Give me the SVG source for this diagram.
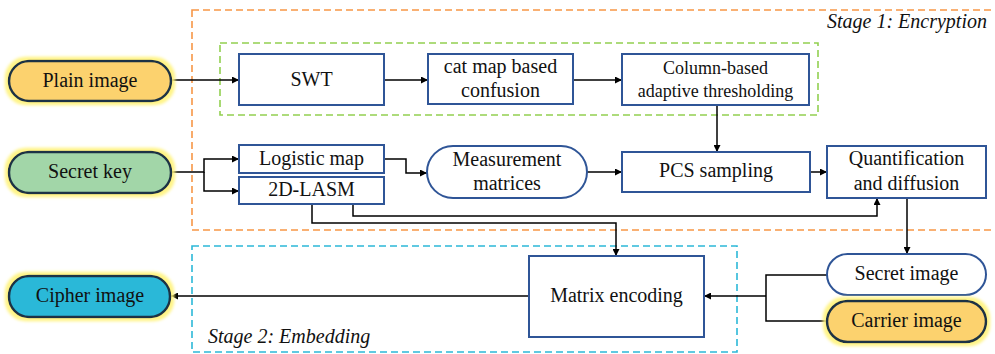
<svg xmlns="http://www.w3.org/2000/svg" width="995" height="354" viewBox="0 0 995 354">
<style>
  text{font-family:'Liberation Serif','Times New Roman',Tinos,'DejaVu Serif','Noto Serif',serif;fill:#111;font-size:20px;text-anchor:middle}
  .sm{font-size:18px}
  .lbl{font-style:italic;text-anchor:start}
  .box{fill:#fff;stroke:#2F5597;stroke-width:2}
  .pill{stroke:#1B3344;stroke-width:2.5}
  .con{fill:none;stroke:#000;stroke-width:1.5}
  .arr{marker-end:url(#ah)}
  .dash{fill:none;stroke-width:1.6;stroke-dasharray:7 4}
</style>
<defs>
  <marker id="ah" viewBox="0 0 10 10" refX="10" refY="5" markerWidth="7" markerHeight="7" markerUnits="userSpaceOnUse" orient="auto">
    <path d="M0,0 L10,5 L0,10 z" fill="#000"/>
  </marker>
  <filter id="glow" x="-20%" y="-50%" width="140%" height="200%">
    <feMorphology in="SourceAlpha" operator="dilate" radius="3" result="d"/>
    <feGaussianBlur in="d" stdDeviation="1.8" result="b"/>
    <feFlood flood-color="#FFF37A" flood-opacity="0.9"/>
    <feComposite in2="b" operator="in" result="g"/>
    <feMerge><feMergeNode in="g"/><feMergeNode in="SourceGraphic"/></feMerge>
  </filter>
</defs>

<g id="stage1">
  <rect class="dash" x="192" y="10" width="812" height="220" stroke="#F79646"/>
  <text class="lbl" x="827" y="28" font-family="Liberation Serif, serif">Stage 1: Encryption</text>
</g>
<g id="stage1-inner">
  <rect class="dash" x="220" y="43" width="598" height="72" stroke="#92D050"/>
</g>
<g id="stage2">
  <rect class="dash" x="192" y="246" width="545" height="106" stroke="#2CB8D8"/>
  <text class="lbl" x="208" y="343">Stage 2: Embedding</text>
</g>

<g id="connectors">
  <path class="con arr" d="M171,80 H239"/>
  <path class="con arr" d="M384,80 H428"/>
  <path class="con arr" d="M573,80 H622"/>
  <path class="con arr" d="M717,105 V152"/>
  <path class="con arr" d="M171,172 H204 V159 H239"/>
  <path class="con arr" d="M204,172 V191 H239"/>
  <path class="con arr" d="M384,159 H406 V173 H427"/>
  <path class="con arr" d="M587,172 H622"/>
  <path class="con arr" d="M810,172 H827"/>
  <path class="con arr" d="M353,204 V216 H877 V198"/>
  <path class="con arr" d="M312,204 V223 H616 V256"/>
  <path class="con arr" d="M907,198 V254"/>
  <path class="con arr" d="M529,296 H171"/>
  <path class="con" d="M827,275 H766 V321 H827"/>
  <path class="con arr" d="M766,296 H704"/>
</g>

<g id="plain-image">
  <rect class="pill" x="9" y="61" width="162" height="40" rx="20" fill="#FCD26E" filter="url(#glow)"/>
  <text x="90" y="87">Plain image</text>
</g>
<g id="secret-key">
  <rect class="pill" x="9" y="152" width="162" height="41" rx="20" fill="#A2D6A8" filter="url(#glow)"/>
  <text x="90" y="178">Secret key</text>
</g>
<g id="cipher-image">
  <rect class="pill" x="9" y="276" width="161" height="41" rx="20" fill="#2BB8D8" filter="url(#glow)"/>
  <text x="90" y="302">Cipher image</text>
</g>
<g id="swt">
  <rect class="box" x="239" y="54" width="145" height="51"/>
  <text x="311.5" y="86">SWT</text>
</g>
<g id="cat-map">
  <rect class="box" x="428" y="54" width="145" height="50"/>
  <text x="500.5" y="73">cat map based</text>
  <text x="500.5" y="97">confusion</text>
</g>
<g id="column-based">
  <rect class="box" x="622" y="54" width="187" height="51"/>
  <text class="sm" x="715.5" y="74">Column-based</text>
  <text class="sm" x="715.5" y="97">adaptive thresholding</text>
</g>
<g id="logistic-map">
  <rect class="box" x="239" y="145" width="145" height="28"/>
  <text x="311.5" y="165">Logistic map</text>
</g>
<g id="lasm">
  <rect class="box" x="239" y="177" width="145" height="27"/>
  <text x="311.5" y="196">2D-LASM</text>
</g>
<g id="measurement">
  <rect class="box" x="427" y="146" width="160" height="52" rx="26"/>
  <text x="507" y="166">Measurement</text>
  <text x="507" y="190">matrices</text>
</g>
<g id="pcs">
  <rect class="box" x="622" y="152" width="188" height="40"/>
  <text x="716" y="177">PCS sampling</text>
</g>
<g id="quant">
  <rect class="box" x="827" y="146" width="159" height="52"/>
  <text x="906.5" y="165">Quantification</text>
  <text x="906.5" y="190">and diffusion</text>
</g>
<g id="matrix-encoding">
  <rect class="box" x="529" y="256" width="175" height="81"/>
  <text x="616.5" y="302">Matrix encoding</text>
</g>
<g id="secret-image">
  <rect class="box" x="827" y="254" width="159" height="41" rx="20.5"/>
  <text x="906.5" y="280">Secret image</text>
</g>
<g id="carrier-image">
  <rect class="pill" x="827" y="301" width="159" height="41" rx="20.5" fill="#FCD26E" filter="url(#glow)"/>
  <text x="906.5" y="327">Carrier image</text>
</g>
</svg>
